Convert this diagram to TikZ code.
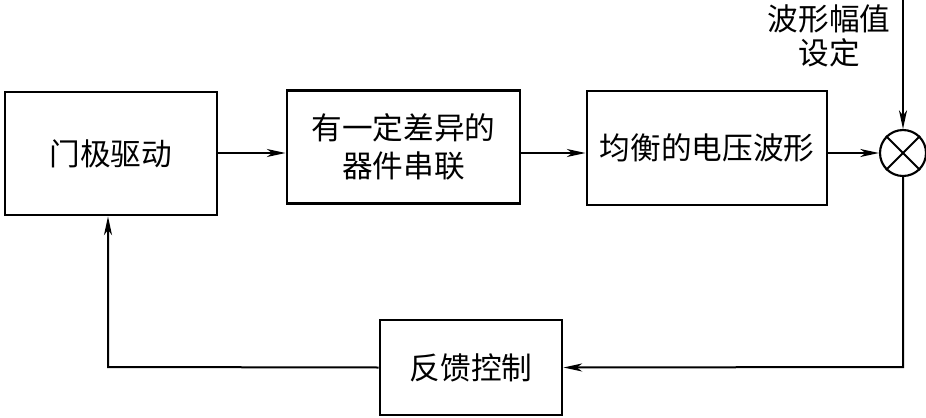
\documentclass[tikz,border=0pt]{standalone}
\usepackage{fontspec}
\setmainfont{Noto Sans CJK SC}
\usetikzlibrary{arrows.meta}
\begin{document}
\begin{tikzpicture}[x=0.75pt,y=-0.75pt,
  blk/.style={draw,line width=2.2pt,inner sep=0pt,font=\fontsize{23}{28}\selectfont,align=center},
  conn/.style={line width=1.5pt,-{Stealth[length=14pt,width=6pt,inset=4pt]}},
  wire/.style={line width=1.5pt}]
\useasboundingbox (0,0) rectangle (926,418);
\node[blk,minimum width=212*0.75pt,minimum height=123*0.75pt] (gd) at (111,153.5) {门极驱动};
\node[blk,minimum width=233*0.75pt,minimum height=113*0.75pt] (sr) at (403.5,147) {有一定差异的\\器件串联};
\node[blk,minimum width=240*0.75pt,minimum height=114*0.75pt] (vw) at (707,148) {均衡的电压波形};
\node[draw,circle,line width=1.6pt,minimum size=46*0.75pt,inner sep=0pt] (sum) at (903,153) {};
\draw[line width=1.4pt] (sum.45) -- (sum.225) (sum.135) -- (sum.315);
\node[blk,minimum width=182*0.75pt,minimum height=95*0.75pt] (fb) at (471,367.5) {反馈控制};
\node[font=\fontsize{23}{26}\selectfont,align=center,inner sep=0pt] (set) at (829,36) {波形幅值\\设定};
\coordinate (top) at (903,0);
\coordinate (br) at (903,367);
\coordinate (bl) at (108,367);
\draw[conn] (gd.east |- 0,153) -- (sr.west |- 0,153);
\draw[conn] (sr.east |- 0,153) -- (vw.west |- 0,153);
\draw[conn] (vw.east |- 0,153) -- (sum.west);
\draw[conn] (top) -- (sum.north);
\draw[conn] (sum.south) -- (br) -- (fb.east);
\draw[conn] (fb.west) -- (bl) -- (bl |- gd.south);
\end{tikzpicture}
\end{document}
